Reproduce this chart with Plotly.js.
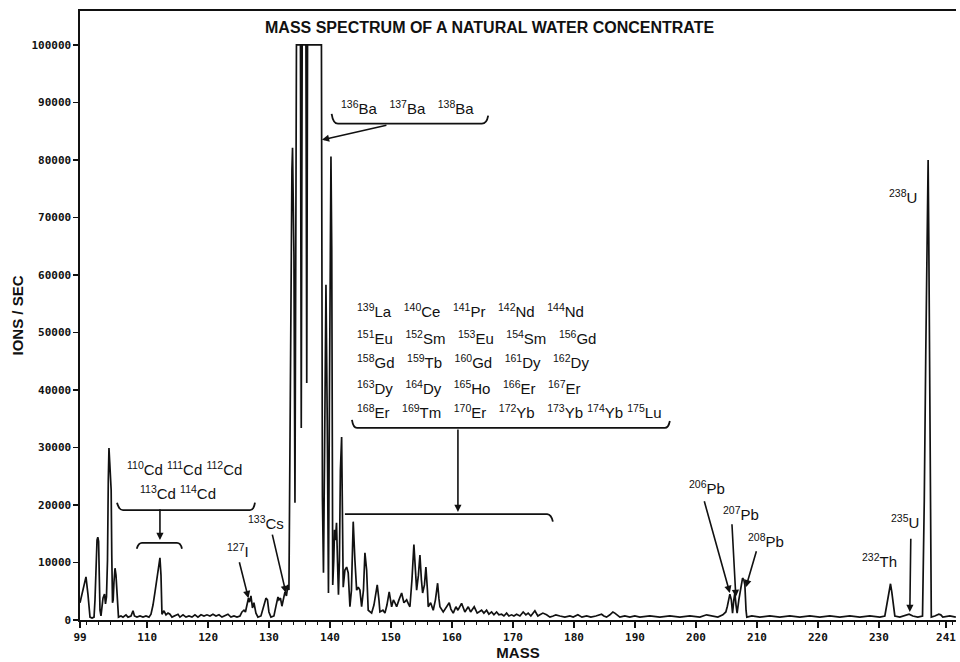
<!DOCTYPE html>
<html>
<head>
<meta charset="utf-8">
<script src="https://cdn.plot.ly/plotly-3.0.1.min.js"></script>
<style>html,body{margin:0;padding:0;background:#fff;}#chart{width:960px;height:662px;}</style>
</head>
<body>
<div id="chart"></div>
<script>
// ---- data ----
const massAMU = [
99.00,99.49,99.98,100.31,100.64,100.97,101.30,101.46,101.62,101.79,101.92,102.05,102.16,102.28,102.44,102.61,102.77,103.02,103.18,103.34,103.51,103.64,103.75,103.87,104.00,104.11,104.21,104.33,104.44,104.57,104.74,104.90,105.07,105.31,
105.72,106.05,106.54,106.87,107.36,107.69,107.93,108.34,108.84,109.33,109.82,110.31,110.64,110.97,111.30,111.62,111.95,112.11,112.28,112.44,112.77,113.10,113.43,113.75,114.08,114.57,115.07,115.39,115.89,116.38,116.87,117.36,117.85,118.34,118.84,119.33,119.82,120.31,120.80,121.30,121.79,122.28,122.77,123.26,123.75,124.25,124.74,125.23,
125.56,125.89,126.13,126.38,126.62,126.79,127.03,127.28,127.52,127.85,128.18,128.67,129.16,129.49,129.74,129.98,130.31,130.80,131.13,131.46,131.62,131.87,132.11,132.36,132.61,132.85,133.10,133.26,
133.43,133.59,133.75,133.85,133.97,134.08,134.25,134.38,134.49,134.74,135.15,135.28,135.43,136.05,136.18,136.31,138.59,138.75,138.92,139.08,139.33,139.54,139.74,139.90,140.03,140.15,140.28,140.44,140.61,140.74,140.89,141.06,141.22,141.38,141.54,141.70,141.90,142.03,142.16,142.44,142.72,142.98,143.26,
143.51,143.80,144.08,144.36,144.62,144.90,145.18,145.48,145.72,146.00,146.26,146.54,146.82,147.20,147.74,148.02,148.18,148.67,149.00,149.33,149.70,150.10,150.39,150.64,150.92,151.30,151.74,152.11,152.56,152.85,153.10,153.43,153.75,154.00,154.20,154.49,154.74,154.98,155.18,155.48,155.72,155.97,156.10,156.49,156.92,157.28,157.64,157.85,158.02,158.56,159.00,159.54,159.82,160.20,160.64,160.97,161.57,161.79,162.11,162.66,163.05,163.64,164.13,164.85,165.23,165.67,166.05,166.49,166.87,167.31,167.69,168.13,168.51,168.95,169.33,169.77,170.15,170.59,171.13,171.67,172.11,172.49,172.93,173.59,174.08,174.41,174.90,175.51,176.05,176.59,177.03,177.69,178.51,179.33,179.87,180.64,181.30,182.07,182.77,183.59,184.52,184.90,185.34,185.89,186.38,186.70,187.20,187.52,188.34,189.16,189.98,190.80,
192.44,194.08,195.72,197.36,199.00,200.64,201.74,202.61,203.59,204.41,204.90,205.15,205.56,205.80,206.00,206.21,206.38,206.57,206.75,207.03,207.28,207.64,207.85,208.02,208.21,208.34,209.16,210.48,212.11,213.75,215.39,217.03,218.67,220.31,221.95,223.59,225.23,226.87,228.51,230.15,230.97,231.30,231.54,231.90,232.11,232.36,232.61,233.43,234.25,234.95,235.56,236.38,237.15,237.44,237.69,237.90,238.07,238.18,238.34,238.59,239.16,239.82,240.15,240.48,241.62,242.61
];
const ionsPerSec = [
3000,5200,7500,4400,500,350,500,3500,10400,13900,14400,13700,7800,1700,700,2600,3800,4500,2800,4000,10400,24400,29900,27500,25100,22600,11300,3000,3500,6600,9000,7800,5200,500,
700,500,900,500,700,1600,700,500,700,500,700,500,1000,2600,4900,7300,10100,10800,7800,1000,1600,900,1200,1000,500,700,1000,500,900,500,700,500,900,500,900,700,900,700,1000,700,900,500,700,1000,500,700,500,700,
1400,1700,1400,2800,3800,3100,4200,2100,3000,1200,500,700,2300,3800,3500,1400,500,700,2400,4000,3500,3800,2400,4000,4900,4200,6100,5200,
38300,62600,78300,82100,73100,63500,20400,55700,100000,100000,100000,33400,100000,100000,41200,100000,100000,21400,8200,26100,58300,34800,4700,38300,73100,80600,64400,6100,10400,15700,13900,16900,10400,4400,10400,26100,31800,17400,5700,8700,9200,8200,2300,
5200,17100,10400,5200,5700,5200,2300,5200,11700,8700,1700,1400,1200,2600,6100,3500,1400,1700,1200,2600,4900,2300,3500,3000,2300,3500,4700,3000,3500,2800,2300,7000,13100,8700,5200,7800,11300,7000,4700,6100,9200,5200,2300,3000,1700,3500,6400,3800,2300,1400,2100,3000,1900,1200,2300,1700,2900,2100,1400,2300,1400,2300,1200,1700,1200,1700,1000,1400,900,1400,900,1000,700,1200,700,900,700,1000,700,1400,900,1200,700,1600,700,900,1200,900,500,700,900,700,500,700,500,900,500,700,500,700,1000,700,500,900,1400,1200,700,500,700,500,700,500,
700,500,700,500,700,500,900,700,500,900,1400,2400,4500,3500,1200,3500,4700,2600,1200,3500,5200,7300,7000,6100,1700,500,700,500,700,500,700,500,700,500,700,500,700,500,700,500,700,2600,4400,6300,4900,2600,700,500,700,1000,700,500,700,20900,47000,69600,80000,66100,29600,500,700,1000,900,500,700,500
];
const xTickVals = [99,110,120,130,140,150,160,170,180,190,200,210,220,230,241];
const xTickText = ["99","110","120","130","140","150","160","170","180","190","200","210","220","230","241"];
const yTickVals = [0,10000,20000,30000,40000,50000,60000,70000,80000,90000,100000];
const yTickText = ["0","10000","20000","30000","40000","50000","60000","70000","80000","90000","100000"];

const reeRows = [
  "<sup>139</sup>La   <sup>140</sup>Ce   <sup>141</sup>Pr   <sup>142</sup>Nd   <sup>144</sup>Nd",
  "<sup>151</sup>Eu   <sup>152</sup>Sm   <sup>153</sup>Eu   <sup>154</sup>Sm   <sup>156</sup>Gd",
  "<sup>158</sup>Gd   <sup>159</sup>Tb   <sup>160</sup>Gd   <sup>161</sup>Dy   <sup>162</sup>Dy",
  "<sup>163</sup>Dy   <sup>164</sup>Dy   <sup>165</sup>Ho   <sup>166</sup>Er   <sup>167</sup>Er",
  "<sup>168</sup>Er   <sup>169</sup>Tm   <sup>170</sup>Er   <sup>172</sup>Yb   <sup>173</sup>Yb <sup>174</sup>Yb <sup>175</sup>Lu"
];

// ---- styling ----
const FONT = "Liberation Sans, Arial, Helvetica, sans-serif";
const MONO = "DejaVu Sans Mono, Liberation Mono, monospace";
const lblFont = {family: FONT, size: 15, color: "#111"};

function txt(x, y, text, xanchor) {
  return {x: x, y: y, xref: "x", yref: "y", text: text, showarrow: false,
          xanchor: xanchor || "center", yanchor: "middle", font: lblFont};
}
function arrow(tx, ty, hx, hy) {
  return {x: hx, y: hy, ax: tx, ay: ty, xref: "x", yref: "y", axref: "x", ayref: "y",
          text: "", showarrow: true, arrowhead: 2, arrowsize: 0.9, arrowwidth: 1.6,
          arrowcolor: "#111", standoff: 0, startstandoff: 0};
}
function brace(path) {
  return {type: "path", xref: "x", yref: "y", path: path,
          line: {color: "#111", width: 1.8}};
}

const annotations = [
  txt(116.21, 26400, "<sup>110</sup>Cd <sup>111</sup>Cd <sup>112</sup>Cd"),
  txt(115.07, 22100, "<sup>113</sup>Cd <sup>114</sup>Cd"),
  txt(124.90, 12000, "<sup>127</sup>I"),
  txt(129.49, 16900, "<sup>133</sup>Cs"),
  txt(152.77, 89100, "<sup>136</sup>Ba   <sup>137</sup>Ba   <sup>138</sup>Ba"),
  txt(144.08, 53800, reeRows[0], "left"),
  txt(144.08, 49100, reeRows[1], "left"),
  txt(144.08, 44900, reeRows[2], "left"),
  txt(144.08, 40500, reeRows[3], "left"),
  txt(144.08, 36200, reeRows[4], "left"),
  txt(201.79, 23100, "<sup>206</sup>Pb"),
  txt(207.36, 18600, "<sup>207</sup>Pb"),
  txt(211.46, 13900, "<sup>208</sup>Pb"),
  txt(230.15, 10400, "<sup>232</sup>Th"),
  txt(234.25, 17100, "<sup>235</sup>U"),
  txt(233.92, 73600, "<sup>238</sup>U"),
  arrow(112.11, 19500, 112.11, 13900),
  arrow(125.07, 10300, 126.62, 3800),
  arrow(130.48, 15100, 132.77, 4700),
  arrow(149.49, 86100, 138.67, 83500),
  arrow(160.97, 33400, 160.97, 18800),
  arrow(201.30, 20900, 205.56, 4700),
  arrow(205.89, 16900, 206.54, 4000),
  arrow(209.98, 12200, 208.18, 5700),
  arrow(235.23, 14400, 235.07, 1400)
];

const shapes = [
  brace("M 105.07,20400 Q 105.4,19100 106.05,19100 L 126.87,19100 Q 127.5,19100 127.69,20400"),
  brace("M 108.30,12400 Q 108.6,13400 109.16,13400 L 114.90,13400 Q 115.5,13400 115.72,12400"),
  brace("M 140.26,88000 Q 140.5,86300 141.30,86300 L 164.90,86300 Q 165.7,86300 165.93,87700"),
  brace("M 143.59,34800 Q 143.8,33400 144.41,33400 L 194.90,33400 Q 195.5,33400 195.72,34600"),
  brace("M 142.44,18400 L 175.60,18400 Q 176.3,18300 176.54,17100")
];

const trace = {
  x: massAMU, y: ionsPerSec, type: "scatter", mode: "lines",
  line: {color: "#111", width: 1.7}, hoverinfo: "skip", cliponaxis: true
};

const layout = {
  width: 960, height: 662,
  margin: {l: 80, r: 4, t: 11, b: 42, pad: 0},
  paper_bgcolor: "#fff", plot_bgcolor: "#fff",
  showlegend: false,
  title: {text: "MASS SPECTRUM OF A NATURAL WATER CONCENTRATE",
          font: {family: FONT, size: 16, color: "#111", weight: "bold"},
          x: 0.51, xref: "container", xanchor: "center",
          y: 0.959, yref: "container", yanchor: "middle"},
  xaxis: {
    range: [99, 242.64], tickmode: "array", tickvals: xTickVals, ticktext: xTickText,
    showline: true, linecolor: "#111", linewidth: 1.6, mirror: true,
    ticks: "outside", ticklen: 6, tickwidth: 1.4, tickcolor: "#111",
    minor: {tickmode: "linear", tick0: 100, dtick: 2, ticks: "outside", ticklen: 3, tickwidth: 1, tickcolor: "#111"},
    showgrid: false, zeroline: false,
    tickfont: {family: MONO, size: 11, color: "#111", weight: "bold"},
    title: {text: "MASS", font: {family: FONT, size: 15, color: "#111", weight: "bold"}, standoff: 5},
    automargin: false, fixedrange: true
  },
  yaxis: {
    range: [0, 105900], tickmode: "array", tickvals: yTickVals, ticktext: yTickText,
    showline: true, linecolor: "#111", linewidth: 1.6,
    ticks: "outside", ticklen: 5, tickwidth: 1.4, tickcolor: "#111",
    showgrid: false, zeroline: false,
    tickfont: {family: MONO, size: 11, color: "#111", weight: "bold"},
    title: {text: "IONS / SEC", font: {family: FONT, size: 15, color: "#111", weight: "bold"}, standoff: 4},
    automargin: false, fixedrange: true
  },
  annotations: annotations,
  shapes: shapes
};

Plotly.newPlot("chart", [trace], layout, {staticPlot: true, displayModeBar: false});
</script>
</body>
</html>
